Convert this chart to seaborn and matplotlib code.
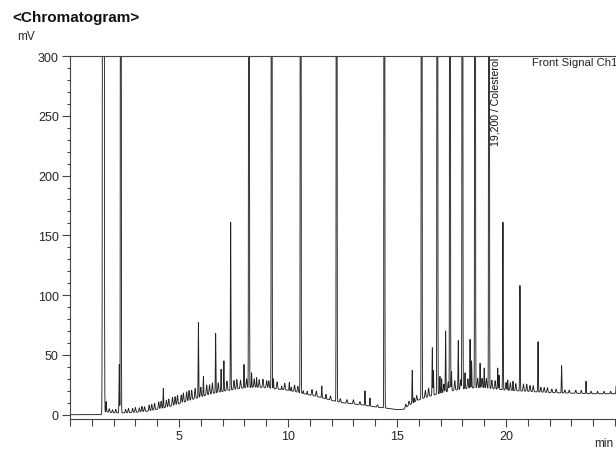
import numpy as np
import pandas as pd
import matplotlib
matplotlib.use("Agg")
import matplotlib.pyplot as plt
from matplotlib.ticker import MultipleLocator
import seaborn as sns

# ---- data ----
# baseline (lower envelope) of the trace, min -> mV
base_t = [0.0, 1.45, 1.6, 2.0, 2.5, 3.0, 3.6, 4.0, 4.5, 5.0, 5.5, 6.0, 6.5, 7.0, 7.5,
          8.0, 8.5, 9.0, 9.5, 10.0, 10.5, 11.0, 11.5, 12.0, 12.5, 13.0, 13.5, 14.0,
          14.5, 15.0, 15.3, 15.6, 16.0, 16.5, 17.0, 17.5, 18.0, 18.5, 19.0, 19.5,
          20.0, 20.5, 21.0, 22.0, 23.0, 24.0, 25.1]
base_v = [0.0, 0.0, 2.5, 1.5, 1.5, 2.0, 3.0, 4.5, 6.5, 9.0, 12.0, 15.0, 17.5, 19.5, 21.0,
          22.5, 23.0, 22.5, 21.5, 20.5, 18.5, 16.5, 14.5, 12.0, 10.0, 9.0, 8.0, 6.5,
          5.5, 4.2, 4.5, 8.5, 12.5, 15.5, 18.0, 20.0, 21.5, 22.5, 22.5, 21.5,
          20.5, 20.0, 19.5, 18.5, 18.0, 17.5, 17.5]

# main peaks: retention time (min) and apex value (mV); 2000 = off scale
OFF = 2000
peak_t = [1.53, 1.66, 2.26, 2.33, 4.28, 5.89, 6.12, 6.68, 6.93, 7.06, 7.37, 7.98,
          8.21, 8.33, 8.56, 9.25, 9.33, 9.71, 10.06, 10.15, 10.58, 10.70, 10.88,
          11.55, 11.74, 12.23, 13.53, 13.76, 14.42, 15.70, 15.78, 16.13, 16.62,
          16.67, 16.85, 16.97, 17.05, 17.23, 17.43, 17.50, 17.81, 18.00, 18.12,
          18.35, 18.42, 18.58, 18.81, 19.00, 19.22, 19.62, 19.68, 19.86, 20.08,
          20.32, 20.64, 21.47, 22.55, 23.67, 25.06]
peak_apex = [5000, 11, 42, OFF, 22, 77, 32, 68, 38, 45, 161, 42,
             OFF, 35, 31, OFF, 30, 24, 27, 23, OFF, 20, 19.5,
             24, 17, OFF, 20, 14, OFF, 37, 14, OFF, 56,
             37, OFF, 32, 30, 70, OFF, 36, 62, OFF, 35,
             63, 45, OFF, 43, 39, OFF, 39, 33, 161, 29,
             28, 108, 61, 41, 28, 30]

# small "grass" peaks: time (min) and height above baseline (mV)
grass_t = [1.80, 1.95, 2.10, 2.55, 2.68, 2.87, 3.00, 3.18, 3.30, 3.42, 3.63, 3.75,
           3.88, 4.07, 4.18, 4.42, 4.53, 4.70, 4.82, 4.93, 5.10, 5.20, 5.35, 5.46,
           5.58, 5.74, 6.00, 6.27, 6.40, 6.53, 6.80, 7.20, 7.52, 7.65, 7.82, 8.10,
           8.45, 8.68, 8.85, 9.02, 9.12, 9.50, 9.85, 10.30, 10.45, 11.10, 11.30,
           11.95, 12.40, 12.70, 13.00, 13.30, 14.10, 15.40, 15.55, 15.90, 16.30,
           16.45, 17.15, 17.35, 17.65, 17.92, 18.25, 18.70, 18.90, 19.10, 19.35,
           19.50, 20.00, 20.20, 20.45, 20.80, 20.95, 21.10, 21.25, 21.60, 21.75,
           21.90, 22.10, 22.30, 22.70, 22.90, 23.20, 23.45, 23.90, 24.20, 24.50,
           24.80]
grass_h = [3.0, 2.5, 3.0, 3.0, 3.5, 3.5, 4.0, 3.5, 4.5, 4.0, 5.0, 5.0,
           5.5, 6.0, 6.0, 6.0, 6.5, 7.0, 7.0, 7.5, 7.0, 8.0, 8.0, 8.5,
           8.0, 8.5, 8.0, 8.5, 8.0, 9.0, 8.0, 8.0, 7.5, 8.0, 7.0, 7.5,
           7.0, 6.5, 7.0, 6.0, 6.0, 6.0, 5.5, 5.5, 5.0, 5.0, 4.5,
           3.5, 3.0, 3.0, 3.5, 2.5, 2.0, 3.0, 3.5, 4.5, 6.0,
           7.0, 7.0, 8.0, 8.0, 8.0, 8.0, 8.0, 8.0, 8.0, 7.0,
           7.0, 6.5, 6.5, 6.0, 6.0, 6.0, 5.0, 5.0, 4.0, 4.0,
           4.0, 3.0, 3.0, 2.5, 2.5, 2.5, 2.5, 2.0, 2.0, 2.0,
           2.0]

x_major = [5, 10, 15, 20]
y_major = [0, 50, 100, 150, 200, 250, 300]

# ---- build trace ----
t = np.arange(0.0, 25.08, 0.002)
base = np.interp(t, base_t, base_v)
sig = base.copy()
for pt, pa in zip(peak_t, peak_apex):
    s = 0.02 if pa >= 5000 else 0.012
    amp = max(pa - np.interp(pt, base_t, base_v), 0.0)
    sig += amp * np.exp(-0.5 * ((t - pt) / s) ** 2)
for gt, gh in zip(grass_t, grass_h):
    sig += gh * np.exp(-0.5 * ((t - gt) / 0.02) ** 2)
df = pd.DataFrame({"min": t, "mV": sig})

# ---- figure ----
sns.set_style("ticks")
plt.rcParams["font.family"] = ["Liberation Sans", "DejaVu Sans"]

W, H = 616, 452
fig = plt.figure(figsize=(W / 100, H / 100), dpi=100)
ax = fig.add_axes([70 / W, 32 / H, (W - 70) / W, (420 - 57) / H])

sns.lineplot(data=df, x="min", y="mV", estimator=None, sort=False,
             color="#222222", linewidth=0.65, ax=ax)

ax.set_xlim(0, (W - 70) / 21.8)
ax.set_ylim(-3.6, 300)
ax.set_xlabel("")
ax.set_ylabel("")
ax.set_xticks(x_major)
ax.set_yticks(y_major)
ax.xaxis.set_minor_locator(MultipleLocator(1))
ax.yaxis.set_minor_locator(MultipleLocator(10))
ax.tick_params(axis="both", which="major", length=6, width=0.8, color="#444444",
               labelsize=9, pad=2)
ax.tick_params(axis="x", which="minor", length=5, width=0.8, color="#444444")
ax.tick_params(axis="y", which="minor", length=2.5, width=0.8, color="#444444")
for side in ["left", "bottom", "top"]:
    ax.spines[side].set_color("#444444")
    ax.spines[side].set_linewidth(0.8)
ax.spines["right"].set_visible(False)

ax.text(19.54, 299, "19,200 / Colesterol", rotation=90, ha="center", va="top",
        fontsize=7.6, color="#111111")

fig.text(12 / W, 1 - 18 / H, "<Chromatogram>", fontsize=11, fontweight="bold",
         ha="left", va="center", color="#111111")
fig.text(17 / W, 1 - 37 / H, "mV", fontsize=8.5, ha="left", va="center")
fig.text(532 / W, 1 - 63 / H, "Front Signal Ch1", fontsize=8.2, ha="left", va="center")
fig.text(613 / W, 1 - 444 / H, "min", fontsize=8.5, ha="right", va="center")

fig.savefig("out.png", dpi=100)
